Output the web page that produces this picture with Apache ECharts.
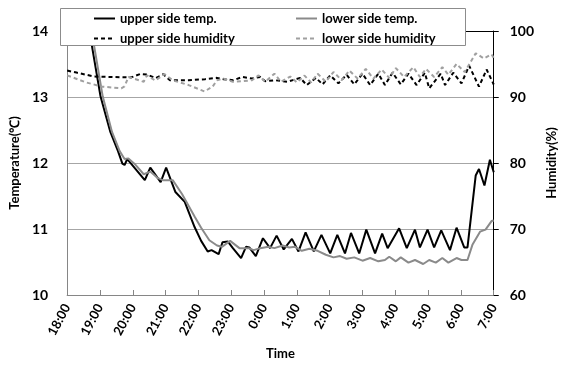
<!DOCTYPE html>
<html>
<head>
<meta charset="utf-8">
<script src="https://cdn.jsdelivr.net/npm/echarts@6/dist/echarts.min.js"></script>
<style>
  body { margin: 0; background: #fff; }
  #chart { width: 566px; height: 365px; }
</style>
</head>
<body>
<div id="chart"></div>
<script>
// minutes after 18:00
const upperTempTime = [0,10,45,61,79,93,101,105,110,142,152,171,181,198,215,233,245,257,264,277,284,294,303,318,327,333,345,358,371,383,396,411,423,436,451,465,481,494,508,519,534,547,563,576,586,607,621,636,645,659,671,684,700,712,726,732,747,753,763,773,780];
const upperTempValue = [13.81,15.2,13.79,13.01,12.47,12.18,11.99,11.97,12.06,11.74,11.93,11.71,11.93,11.56,11.41,11.03,10.82,10.66,10.68,10.62,10.80,10.81,10.71,10.56,10.73,10.72,10.59,10.86,10.71,10.90,10.69,10.85,10.66,10.95,10.66,10.91,10.63,10.91,10.63,10.94,10.63,10.99,10.63,10.93,10.71,11.01,10.71,10.99,10.72,10.99,10.72,10.98,10.68,11.02,10.72,10.72,11.81,11.91,11.66,12.05,11.86];

const lowerTempTime = [0,30,49,65,82,96,105,112,123,140,152,166,175,193,210,233,245,260,274,283,298,315,332,341,353,368,379,394,406,417,429,443,458,473,487,499,511,525,540,554,569,581,589,601,610,624,636,651,662,674,686,697,712,721,732,741,755,765,776,780];
const lowerTempValue = [14.5,14.1,13.79,13.01,12.47,12.18,12.06,12.07,11.99,11.83,11.87,11.77,11.74,11.74,11.53,11.19,11.02,10.83,10.75,10.73,10.82,10.71,10.71,10.68,10.71,10.73,10.71,10.75,10.72,10.73,10.67,10.70,10.67,10.61,10.57,10.59,10.55,10.57,10.52,10.56,10.51,10.53,10.58,10.51,10.57,10.49,10.53,10.47,10.53,10.49,10.56,10.49,10.56,10.53,10.53,10.76,10.96,10.99,11.12,11.13];

const upperHumTime = [0,17,50,99,117,134,146,162,176,188,222,252,274,286,304,320,338,353,362,380,403,426,438,455,467,481,496,511,525,540,554,569,581,595,610,624,639,654,662,683,691,706,721,735,753,767,780];
const upperHumValue = [94.0,93.7,93.1,93.0,92.97,93.5,93.4,92.87,93.45,92.54,92.54,92.7,92.9,92.69,92.54,93.04,92.79,93.04,92.4,92.54,92.31,92.9,91.81,92.9,91.91,93.28,92.06,93.38,91.91,93.53,91.81,93.53,91.81,93.68,91.91,93.53,91.81,93.68,91.32,93.53,91.81,93.68,92.06,94.75,91.57,94.16,91.9];

const lowerHumTime = [0,35,64,99,105,112,140,146,161,178,193,222,251,266,274,286,303,321,338,350,362,379,391,408,420,434,446,458,473,487,502,516,531,546,560,575,589,601,616,633,645,656,671,686,697,712,727,747,762,776,780];
const lowerHumValue = [93.28,92.2,91.57,91.32,91.6,93.04,92.31,93.28,92.5,93.46,92.54,91.81,90.84,91.57,92.54,92.79,92.31,92.4,92.54,93.28,92.31,93.53,92.31,93.09,92.21,93.24,92.21,93.53,92.31,93.78,92.54,94.01,92.79,94.26,92.79,94.16,92.9,94.37,93.04,94.51,93.04,94.26,93.04,94.51,93.38,95.0,93.78,96.62,95.84,96.47,95.9];

const pairs = (t, v) => t.map((x, i) => [x, v[i]]);
const font = 'Lato, "Liberation Sans", sans-serif';
const legendText = { fontFamily: font, fontWeight: 'bold', fontSize: 13, color: '#000' };

const chart = echarts.init(document.getElementById('chart'));
chart.setOption({
  animation: false,
  textStyle: { fontFamily: font },
  grid: { left: 60, right: 59, top: 31, bottom: 62 },
  graphic: [{
    type: 'rect',
    z: 10,
    shape: { x: 60.5, y: 8.5, width: 405, height: 37 },
    style: { fill: '#fff', stroke: '#8c8c8c', lineWidth: 1 }
  }],
  legend: [
    {
      z: 20, left: 93, top: 12, orient: 'vertical', padding: 0,
      itemWidth: 21, itemHeight: 10, itemGap: 7,
      itemStyle: { color: 'transparent', borderWidth: 0 },
      data: ['upper side temp.', 'upper side humidity'],
      textStyle: legendText
    },
    {
      z: 20, left: 295, top: 12, orient: 'vertical', padding: 0,
      itemWidth: 21, itemHeight: 10, itemGap: 7,
      itemStyle: { color: 'transparent', borderWidth: 0 },
      data: ['lower side temp.', 'lower side humidity'],
      textStyle: legendText
    }
  ],
  xAxis: {
    type: 'value', min: 0, max: 780, interval: 60,
    name: 'Time', nameLocation: 'middle', nameGap: 52,
    nameTextStyle: { fontFamily: font, fontWeight: 'bold', fontSize: 13, color: '#000' },
    axisLine: { lineStyle: { color: '#868686' } },
    axisTick: { inside: true, length: 5, lineStyle: { color: '#868686' } },
    axisLabel: {
      rotate: 62, margin: 10, fontFamily: font, fontWeight: 'bold', fontSize: 13, color: '#000',
      formatter: v => (v % 60 === 0 ? ((18 + v / 60) % 24) + ':00' : '')
    },
    splitLine: { show: false }
  },
  yAxis: [
    {
      type: 'value', min: 10, max: 14, interval: 1,
      name: 'Temperature(℃)', nameLocation: 'middle', nameGap: 42, nameRotate: 90,
      nameTextStyle: { fontFamily: font, fontWeight: 'bold', fontSize: 13, color: '#000' },
      axisLine: { show: true, lineStyle: { color: '#868686' } },
      axisTick: { show: false },
      axisLabel: { margin: 19, fontFamily: font, fontWeight: 'bold', fontSize: 14, color: '#000' },
      splitLine: { lineStyle: { color: ['#a6a6a6', '#a6a6a6', '#a6a6a6', '#a6a6a6', '#000'] } }
    },
    {
      type: 'value', min: 60, max: 100, interval: 10, position: 'right',
      name: 'Humidity(%)', nameLocation: 'middle', nameGap: 44, nameRotate: 90,
      nameTextStyle: { fontFamily: font, fontWeight: 'bold', fontSize: 13, color: '#000' },
      axisLine: { show: true, lineStyle: { color: '#000' } },
      axisTick: { show: true, length: 5, lineStyle: { color: '#000' } },
      axisLabel: { margin: 16, fontFamily: font, fontWeight: 'bold', fontSize: 14, color: '#000' },
      splitLine: { show: false }
    }
  ],
  series: [
    {
      name: 'upper side temp.', type: 'line', symbol: 'none', yAxisIndex: 0,
      data: pairs(upperTempTime, upperTempValue),
      lineStyle: { color: '#000', width: 2 }, itemStyle: { color: '#000' }
    },
    {
      name: 'lower side temp.', type: 'line', symbol: 'none', yAxisIndex: 0,
      data: pairs(lowerTempTime, lowerTempValue),
      lineStyle: { color: '#8a8a8a', width: 2 }, itemStyle: { color: '#8a8a8a' }
    },
    {
      name: 'upper side humidity', type: 'line', symbol: 'none', yAxisIndex: 1,
      data: pairs(upperHumTime, upperHumValue),
      lineStyle: { color: '#000', width: 2, type: [4, 3] }, itemStyle: { color: '#000' }
    },
    {
      name: 'lower side humidity', type: 'line', symbol: 'none', yAxisIndex: 1,
      data: pairs(lowerHumTime, lowerHumValue),
      lineStyle: { color: '#a0a0a0', width: 2, type: [4, 3] }, itemStyle: { color: '#a0a0a0' }
    }
  ]
});
</script>
</body>
</html>
